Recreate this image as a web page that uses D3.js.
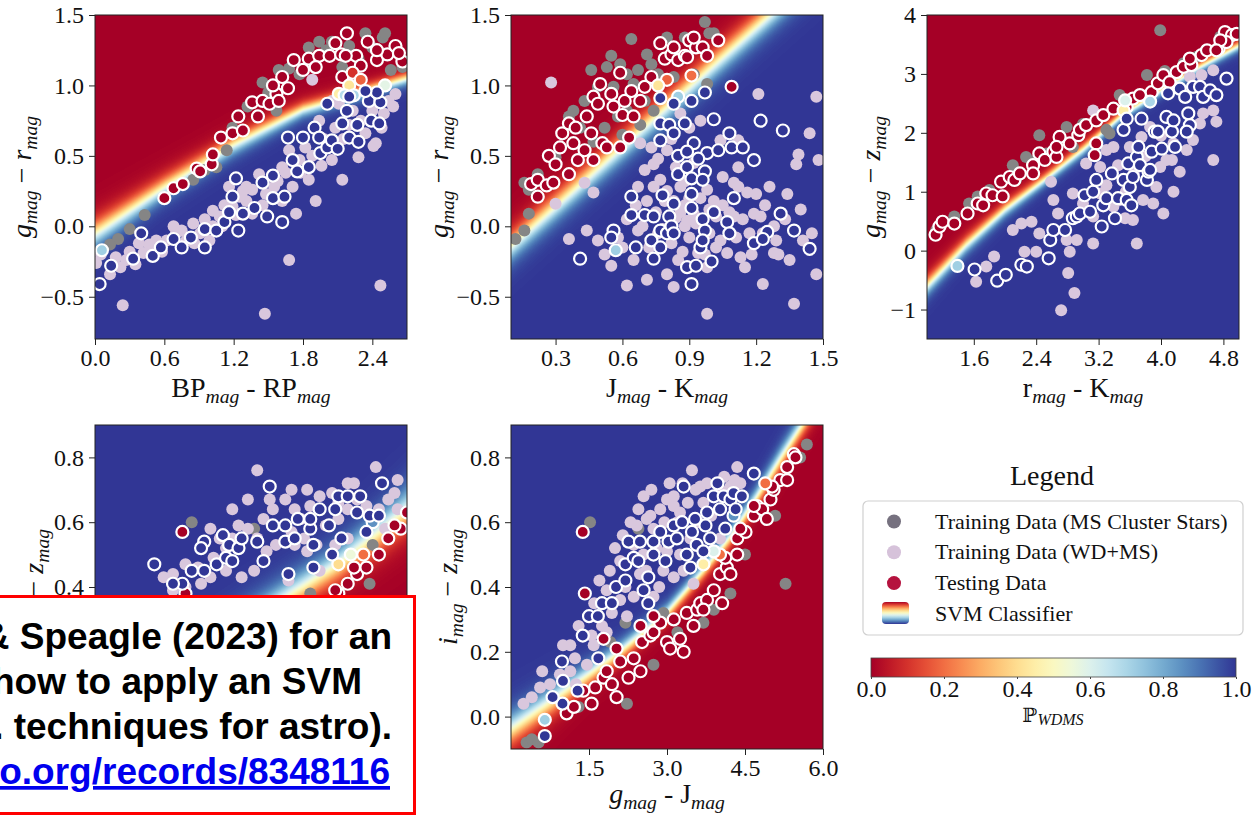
<!DOCTYPE html>
<html>
<head>
<meta charset="utf-8">
<script src="https://cdn.jsdelivr.net/npm/d3@7"></script>
<style>
body { margin: 0; background: #fff; }
svg { display: block; font-family: "Liberation Serif", "Times New Roman", serif; }
text { white-space: pre; }
</style>
</head>
<body>
<svg id="chart" width="1253" height="816"></svg>
<script>
// ---- panel 1 : g-r vs BP-RP ----
var p1XTicks = [0.0, 0.6, 1.2, 1.8, 2.4];
var p1YTicks = [-0.5, 0.0, 0.5, 1.0, 1.5];
var p1XLabel = [["BP",""],["mag","sub"],[" - ",""],["RP",""],["mag","sub"]];
var p1YLabel = [["g","it"],["mag","sub"],[" − ",""],["r","it"],["mag","sub"]];
// SVM decision edge: [x, y, softness in y units]
var p1Boundary = [[0,-0.05,0.055],[0.6,0.28,0.045],[1.2,0.58,0.04],[1.8,0.83,0.03],[2.7,1.05,0.025]];
var p1Gray = [[0.20,-0.09],[0.30,-0.02],[0.43,0.08],[0.13,-0.13],[1.05,0.42],[1.14,0.54],[1.32,0.85],[1.57,0.82],[1.45,1.02],[1.59,1.11],[1.68,1.12],[1.85,1.27],[1.94,1.31],[2.05,1.31],[2.34,1.37],[2.49,1.34],[2.51,1.37],[2.28,1.19],[2.56,1.11],[2.66,1.13],[1.77,1.08],[2.14,1.13],[2.40,1.27],[1.19,0.70],[0.85,0.33],[2.00,1.25],[2.20,1.28],[1.50,0.95],[0.95,0.40]];
var p1Lilac = [[0.24,-0.56],[1.47,-0.62],[1.68,-0.24],[2.47,-0.42],[2.14,0.33],[2.41,0.57],[1.88,1.04],[0.01,-0.26],[0.13,-0.34],[0.22,-0.29],[0.27,-0.24],[0.42,-0.19],[0.47,-0.13],[0.62,-0.10],[0.70,-0.05],[0.79,-0.10],[0.91,-0.05],[1.02,0.11],[1.08,0.07],[1.02,0.00],[1.19,0.14],[1.31,0.18],[1.36,0.26],[1.31,0.28],[1.42,0.37],[1.48,0.23],[1.62,0.18],[1.71,0.28],[1.74,0.09],[1.62,0.42],[1.77,0.47],[1.85,0.33],[1.91,0.18],[1.68,0.54],[1.82,0.56],[1.94,0.75],[2.05,0.47],[2.08,0.70],[2.11,0.87],[2.23,0.82],[2.34,0.66],[2.43,0.59],[2.54,0.89],[2.60,0.94],[2.05,0.89],[1.16,0.28],[1.25,0.21],[0.99,-0.10],[0.53,-0.10],[0.68,0.00],[1.36,0.09],[2.28,0.49],[0.35,-0.27],[0.58,-0.18],[0.86,-0.12],[1.12,0.15],[1.55,0.28],[1.96,0.43],[2.20,0.72],[2.50,0.80],
  [0.05,-0.20],[0.18,-0.22],[0.30,-0.18],[0.38,-0.12],[0.55,-0.16],[0.75,-0.03],[0.85,0.02],[0.95,0.05],[1.10,0.00],[1.22,0.08],[1.28,0.25],[1.45,0.15],[1.58,0.32],[1.65,0.38],[1.78,0.38],[1.88,0.50],[1.98,0.62],[2.15,0.62],[2.30,0.75],[2.40,0.82],[2.48,0.70],[2.58,0.85]];
// testing data: [x, y, P_WDMS]
var p1Test = [[0.60,0.20,0],[0.68,0.27,0],[0.76,0.30,0],[0.88,0.41,0],[1.01,0.44,0],[1.02,0.51,0],[1.09,0.63,0],[1.19,0.66,0],[1.24,0.78,0],[1.36,0.88,0],[1.41,0.78,0],[1.45,0.89,0],[1.51,0.87,0],[1.57,0.94,0],[1.54,1.00,0],[1.62,1.06,0],[1.67,0.98,0],[1.72,1.18,0],[1.80,1.11,0],[1.85,1.19,0],[1.94,1.21,0],[2.03,1.21,0],[2.08,1.30,0],[2.13,1.22,0],[2.18,1.37,0],[2.26,1.21,0],[2.30,1.14,0],[2.36,1.31,0],[2.44,1.18,0],[2.53,1.22,0],[2.60,1.28,0],[2.66,1.17,0],[2.17,1.21,0],[2.63,1.23,0],[2.14,1.06,0],[0.91,0.39,0],[1.28,0.68,0],[1.59,0.89,0],[2.44,1.25,0],[1.91,1.13,0],
  [2.23,1.09,0.1],[2.30,1.04,0.18],[2.20,1.00,0.42],[2.11,0.94,0.45],[2.16,0.93,0.68],[2.24,0.93,0.7],[2.51,1.00,0.58],[0.06,-0.17,0.72],
  [0.04,-0.41,1],[0.14,-0.28,1],[0.33,-0.23,1],[0.40,-0.05,1],[0.50,-0.21,1],[0.57,-0.15,1],[0.68,-0.09,1],[0.75,-0.15,1],[0.83,-0.08,1],[0.95,-0.15,1],[0.95,-0.02,1],[1.05,-0.03,1],[1.12,0.03,1],[1.16,0.10,1],[1.19,0.21,1],[1.24,-0.03,1],[1.28,0.09,1],[1.38,0.13,1],[1.22,0.34,1],[1.45,0.31,1],[1.54,0.36,1],[1.54,0.20,1],[1.64,0.21,1],[1.62,0.03,1],[1.49,0.07,1],[1.67,0.63,1],[1.75,0.39,1],[1.80,0.63,1],[1.85,0.42,1],[1.90,0.70,1],[1.95,0.52,1],[2.01,0.56,1],[2.05,0.61,1],[2.01,0.87,1],[2.10,0.55,1],[2.14,0.73,1],[2.20,0.63,1],[2.18,0.82,1],[2.27,0.72,1],[2.28,0.60,1],[2.37,0.89,1],[2.39,0.75,1],[2.46,0.73,1],[2.47,0.88,1],[2.44,0.95,1],[2.34,0.96,1],[2.20,0.92,1],[1.94,0.63,1],[1.71,0.47,1]];

// ---- panel 2 : g-r vs J-K ----
var p2XTicks = [0.3, 0.6, 0.9, 1.2, 1.5];
var p2YTicks = [-0.5, 0.0, 0.5, 1.0, 1.5];
var p2XLabel = [["J",""],["mag","sub"],[" - ",""],["K",""],["mag","sub"]];
var p2YLabel = [["g","it"],["mag","sub"],[" − ",""],["r","it"],["mag","sub"]];
var p2Boundary = [[0.1,-0.14,0.058],[1.26,1.5,0.058]];
var p2Gray = [[0.12,-0.09],[0.16,-0.03],[0.18,0.09],[0.16,0.31],[0.18,0.26],[0.22,0.37],[0.30,0.49],[0.36,0.78],[0.41,0.70],[0.43,0.89],[0.46,1.11],[0.49,0.99],[0.52,0.70],[0.55,1.21],[0.58,0.78],[0.59,1.15],[0.62,0.82],[0.64,1.33],[0.67,1.11],[0.70,0.89],[0.71,1.22],[0.73,1.15],[0.74,0.82],[0.76,1.08],[0.80,1.34],[0.83,1.06],[0.88,1.34],[0.92,1.08],[0.97,1.45],[0.98,1.01],[0.99,1.37],[1.01,1.37],[0.65,1.01],[0.56,0.99],[0.38,0.82],[0.53,1.13],[0.62,1.08],[0.47,0.60],[0.60,0.65],[0.68,0.72]];
var p2Lilac = [[0.28,1.02],[0.30,0.16],[0.36,-0.09],[0.44,-0.03],[0.47,0.24],[0.43,0.31],[0.49,-0.10],[0.55,-0.28],[0.58,-0.08],[0.62,-0.42],[0.65,-0.24],[0.68,0.59],[0.71,-0.38],[0.73,0.56],[0.74,0.44],[0.74,0.28],[0.71,0.18],[0.67,-0.03],[0.77,0.33],[0.79,0.18],[0.80,-0.34],[0.83,-0.43],[0.85,-0.24],[0.86,0.28],[0.88,0.00],[0.89,0.04],[0.92,0.09],[0.94,-0.19],[0.98,-0.29],[0.98,-0.62],[1.01,0.18],[1.02,0.07],[1.04,-0.10],[1.07,-0.19],[1.10,0.07],[1.10,0.31],[1.13,-0.22],[1.15,-0.29],[1.17,-0.05],[1.16,0.24],[1.20,0.23],[1.21,0.94],[1.22,0.07],[1.23,-0.05],[1.28,-0.19],[1.28,0.00],[1.29,-0.10],[1.34,0.23],[1.35,-0.24],[1.38,0.44],[1.37,-0.55],[1.41,-0.10],[1.44,0.66],[1.47,0.92],[1.48,0.47],[1.47,-0.34],[1.23,-0.41],[1.12,0.28],[1.26,0.28],[0.98,0.26],[0.83,0.18],[0.76,-0.05],[0.99,-0.05],[0.80,0.54],[0.95,0.75],[1.04,0.61],[1.12,0.61],[1.19,0.09],[1.12,0.42],[0.67,0.28],[1.39,0.51],[0.90,0.20],[1.05,0.35],[0.86,0.10],
  [0.62,0.05],[0.66,0.15],[0.69,0.00],[0.72,-0.15],[0.75,0.10],[0.78,-0.02],[0.80,0.25],[0.82,-0.12],[0.84,0.06],[0.87,-0.18],[0.88,0.15],[0.90,-0.08],[0.93,0.02],[0.95,0.20],[0.97,-0.20],[0.99,0.12],[1.02,-0.15],[1.05,0.15],[1.08,0.10],[1.11,-0.08],[1.14,0.05],[1.18,-0.20],[1.24,0.15],[1.30,-0.20],[1.33,0.05],[1.40,0.12],[1.45,-0.05],[0.60,-0.15],[0.52,-0.20],[0.70,0.40],[0.76,0.48],[0.84,0.42],[0.92,0.45],[0.88,0.32],[0.82,0.62],[0.90,0.70],[0.86,0.80]];
var p2Test = [[0.19,0.30,0],[0.22,0.33,0],[0.22,0.21,0],[0.26,0.29,0],[0.29,0.31,0],[0.27,0.50,0],[0.30,0.44,0],[0.32,0.56,0],[0.33,0.66,0],[0.36,0.37,0],[0.36,0.73,0],[0.39,0.70,0],[0.38,0.59,0],[0.40,0.47,0],[0.43,0.54,0],[0.44,0.78,0],[0.46,0.66,0],[0.47,0.47,0],[0.47,0.92,0],[0.49,0.87,0],[0.50,1.01,0],[0.51,0.59,0],[0.53,0.56,0],[0.55,0.94,0],[0.56,0.85,0],[0.59,1.09,0],[0.59,0.56,0],[0.60,0.79,0],[0.61,0.89,0],[0.63,0.63,0],[0.64,0.96,0],[0.65,0.78,0],[0.68,0.89,0],[0.70,0.99,0],[0.73,1.06,0],[0.77,1.30,0],[0.79,1.19,0],[0.82,1.22,0],[0.83,1.27,0],[0.85,1.18,0],[0.88,1.21,0],[0.90,1.32,0],[0.89,1.20,0],[0.93,1.27,0],[0.96,1.27,0],[0.98,1.21,0],[1.03,1.32,0],[1.09,0.99,0],[0.92,1.34,0],
  [0.80,1.04,0.18],[0.91,1.07,0.2],[0.76,1.00,0.42],[0.85,0.92,0.72],[0.57,-0.17,0.72],
  [0.77,0.91,1],[0.77,0.73,1],[0.81,0.72,1],[0.83,0.87,1],[0.91,0.89,1],[0.97,0.95,1],[0.77,0.61,1],[0.83,0.66,1],[0.88,0.73,1],[0.92,0.59,1],[0.98,0.52,1],[1.01,0.76,1],[0.85,0.50,1],[0.89,0.53,1],[0.94,0.48,1],[0.85,0.37,1],[0.89,0.42,1],[0.91,0.34,1],[0.97,0.39,1],[0.96,0.33,1],[1.03,0.54,1],[1.08,0.66,1],[1.09,0.56,1],[1.14,0.56,1],[1.19,0.47,1],[1.22,0.75,1],[1.32,0.68,1],[0.64,0.21,1],[0.64,0.08,1],[0.70,0.08,1],[0.74,0.07,1],[0.78,0.22,1],[0.81,0.07,1],[0.83,0.16,1],[0.91,0.23,1],[0.91,0.13,1],[0.96,0.05,1],[1.01,0.10,1],[1.10,0.20,1],[1.07,0.03,1],[1.08,-0.05,1],[1.19,-0.12,1],[1.25,-0.04,1],[1.23,-0.09,1],[1.31,0.09,1],[1.37,-0.03,1],[1.44,-0.16,1],[0.56,-0.03,1],[0.55,-0.08,1],[0.66,-0.15,1],[0.73,-0.10,1],[0.77,-0.03,1],[0.77,-0.15,1],[0.74,-0.23,1],[0.80,-0.05,1],[0.89,-0.29,1],[0.91,-0.41,1],[0.93,-0.28,1],[0.95,-0.15,1],[0.97,-0.03,1],[1.00,-0.25,1],[0.96,-0.10,1],[0.41,-0.23,1],[0.82,0.00,1],[0.83,-0.05,1]];

// ---- panel 3 : g-z vs r-K ----
var p3XTicks = [1.6, 2.4, 3.2, 4.0, 4.8];
var p3YTicks = [-1, 0, 1, 2, 3, 4];
var p3XLabel = [["r",""],["mag","sub"],[" - ",""],["K",""],["mag","sub"]];
var p3YLabel = [["g","it"],["mag","sub"],[" − ",""],["z","it"],["mag","sub"]];
var p3Boundary = [[1.0,-0.6,0.09],[1.5,0.1,0.08],[2.0,0.7,0.07],[2.5,1.2,0.06],[3.0,1.72,0.06],[3.5,2.3,0.05],[4.0,2.72,0.05],[4.5,3.12,0.05],[5.0,3.48,0.05]];
var p3Gray = [[3.99,3.74],[1.12,0.35],[1.35,0.58],[1.54,0.80],[1.80,1.03],[2.10,1.45],[2.27,1.59],[2.44,1.96],[2.79,2.10],[2.87,1.76],[3.30,2.05],[3.34,1.99],[3.47,2.64],[3.82,2.98],[4.29,3.18],[4.46,3.29],[4.76,3.63],[2.14,1.20],[2.53,1.65],[2.40,1.54],[1.65,0.92],[3.00,2.15],[4.05,3.05]];
var p3Lilac = [[1.63,-0.53],[1.76,-0.27],[1.86,-0.10],[2.10,0.35],[2.21,0.46],[2.34,0.49],[2.25,-0.02],[2.40,-0.02],[2.59,1.17],[2.72,-1.01],[2.81,-0.38],[2.89,-0.72],[2.83,-0.02],[2.92,0.18],[2.68,0.63],[2.79,0.18],[2.87,0.97],[3.13,0.12],[3.04,1.48],[3.13,2.38],[3.22,1.42],[3.30,1.71],[3.39,1.76],[3.47,0.86],[3.54,0.55],[3.60,1.76],[3.69,0.12],[3.77,0.86],[3.90,0.80],[3.99,1.42],[4.07,1.54],[4.14,1.54],[4.24,1.34],[4.41,1.88],[4.50,2.16],[4.54,2.33],[4.67,2.38],[4.71,2.19],[4.67,1.54],[4.67,3.06],[4.52,2.98],[4.37,2.95],[3.86,2.10],[3.75,1.93],[3.30,1.11],[3.22,0.97],[3.39,0.75],[3.64,0.52],[3.13,0.58],[3.00,0.80],[4.16,1.00],[4.03,0.63],[3.94,1.08],[4.16,1.82],[4.33,1.71],[2.62,0.86],[2.44,0.29],[3.45,1.45],[3.65,1.30],[3.55,1.00],[3.80,1.60],[4.00,1.95]];
var p3Test = [[1.11,0.27,0],[1.16,0.41,0],[1.20,0.49,0],[1.35,0.46,0],[1.52,0.63,0],[1.65,0.80,0],[1.72,0.77,0],[1.76,0.97,0],[1.84,0.94,0],[1.97,0.92,0],[1.95,1.17,0],[2.06,1.25,0],[2.12,1.20,0],[2.19,1.31,0],[2.36,1.45,0],[2.36,1.31,0],[2.44,1.65,0],[2.51,1.54,0],[2.62,1.68,0],[2.66,1.59,0],[2.70,1.93,0],[2.83,1.82,0],[2.94,1.96,0],[2.96,2.05,0],[3.04,2.13,0],[3.17,2.21,0],[3.17,1.82,0],[3.15,1.62,0],[3.26,2.30,0],[3.39,2.41,0],[3.56,2.44,0],[3.64,2.58,0],[3.73,2.64,0],[3.88,2.69,0],[3.96,2.84,0],[4.03,2.98,0],[4.20,3.03,0],[4.29,3.12,0],[4.39,3.15,0],[4.52,3.32,0],[4.59,3.40,0],[4.74,3.43,0],[4.82,3.71,0],[4.91,3.66,0],[4.84,3.54,0],[4.97,3.68,0],[4.76,3.57,0],[4.71,3.40,0],[4.37,3.26,0],[4.11,2.86,0],[2.66,1.76,0],
  [3.52,2.38,0.45],[3.86,2.53,0.7],[3.54,2.55,0.6],[1.39,-0.26,0.72],
  [1.61,-0.32,1],[1.90,-0.51,1],[2.01,-0.41,1],[2.21,-0.24,1],[2.28,-0.27,1],[2.56,-0.13,1],[2.58,0.18,1],[2.62,0.35,1],[2.77,0.35,1],[2.87,0.55,1],[2.92,0.58,1],[2.96,0.63,1],[3.02,0.94,1],[3.09,0.66,1],[3.13,1.00,1],[3.17,1.20,1],[3.24,0.41,1],[3.26,0.77,1],[3.30,0.89,1],[3.37,1.31,1],[3.41,0.55,1],[3.45,0.89,1],[3.52,1.20,1],[3.56,0.86,1],[3.58,1.48,1],[3.60,1.08,1],[3.62,0.77,1],[3.64,1.25,1],[3.69,1.59,1],[3.71,1.76,1],[3.73,1.45,1],[3.75,2.24,1],[3.82,1.20,1],[3.84,1.34,1],[3.86,1.37,1],[3.88,1.68,1],[3.92,2.02,1],[3.96,2.02,1],[4.01,1.73,1],[4.07,2.27,1],[4.09,2.67,1],[4.14,2.02,1],[4.16,2.21,1],[4.18,1.76,1],[4.24,2.75,1],[4.31,2.61,1],[4.35,2.33,1],[4.37,2.13,1],[4.41,2.78,1],[4.50,2.78,1],[4.54,2.61,1],[4.63,2.72,1],[4.71,2.64,1],[4.84,2.92,1],[4.33,2.02,1],[3.52,2.05,1],[3.56,2.24,1]];

// ---- panel 4 : i-z (lower left, mostly under the note) ----
var p4XTicks = [];
var p4YTicks = [0.4, 0.6, 0.8];
var p4XLabel = [];
var p4YLabel = [["i","it"],["mag","sub"],[" − ",""],["z","it"],["mag","sub"]];
var p4Boundary = [[0,0.0,0.03],[0.3,0.17,0.03],[0.6,0.36,0.03],[0.78,0.47,0.03],[0.9,0.56,0.033],[1.0,0.64,0.035]];
var p4Gray = [[0.31,0.60],[0.51,0.58],[0.88,0.41],[0.69,0.38],[0.89,0.53]];
var p4Lilac = [[0.22,0.43],[0.25,0.44],[0.29,0.47],[0.33,0.46],[0.38,0.49],[0.42,0.52],[0.44,0.64],[0.46,0.59],[0.49,0.58],[0.52,0.55],[0.54,0.61],[0.57,0.64],[0.61,0.67],[0.64,0.64],[0.66,0.61],[0.69,0.65],[0.72,0.68],[0.76,0.69],[0.78,0.66],[0.81,0.64],[0.84,0.67],[0.87,0.65],[0.91,0.64],[0.94,0.67],[0.96,0.69],[0.97,0.64],[0.83,0.72],[0.74,0.59],[0.71,0.53],[0.68,0.51],[0.64,0.53],[0.58,0.53],[0.55,0.51],[0.51,0.45],[0.47,0.43],[0.42,0.45],[0.37,0.43],[0.34,0.41],[0.29,0.40],[0.25,0.39],[0.63,0.57],[0.67,0.55],[0.77,0.53],[0.81,0.55],[0.93,0.58],[0.78,0.61],[0.44,0.55],[0.40,0.55],[0.49,0.67],[0.90,0.77],[0.52,0.76],[0.56,0.67],[0.63,0.70],[0.68,0.70],[0.81,0.72],[0.97,0.73],[0.37,0.58],[0.62,0.42],[0.72,0.45]];
var p4Test = [[0.28,0.57,0],[0.94,0.55,0],[0.91,0.50,0],[0.84,0.44,0],[0.83,0.46,0],[0.98,0.58,0],[1.0,0.63,0],[0.78,0.38,0],[0.81,0.41,0],[0.77,0.39,0],[0.87,0.46,0],[0.96,0.59,0],[0.29,0.38,0],
  [0.86,0.50,0.2],[0.78,0.47,0.4],[0.82,0.50,0.55],[0.89,0.60,0.85],
  [0.19,0.47,1],[0.28,0.41,1],[0.25,0.41,1],[0.31,0.45,1],[0.35,0.54,1],[0.35,0.45,1],[0.39,0.47,1],[0.41,0.56,1],[0.42,0.49,1],[0.43,0.53,1],[0.46,0.52,1],[0.47,0.55,1],[0.52,0.54,1],[0.54,0.48,1],[0.56,0.71,1],[0.57,0.59,1],[0.61,0.59,1],[0.61,0.54,1],[0.65,0.61,1],[0.69,0.58,1],[0.70,0.53,1],[0.70,0.46,1],[0.72,0.64,1],[0.75,0.59,1],[0.76,0.50,1],[0.78,0.68,1],[0.79,0.55,1],[0.81,0.68,1],[0.85,0.68,1],[0.84,0.63,1],[0.87,0.57,1],[0.88,0.62,1],[0.92,0.72,1],[0.91,0.62,1],[0.62,0.44,1],[0.69,0.61,1],[0.77,0.64,1],[0.64,0.55,1],[0.34,0.52,1],[0.44,0.48,1]];

// ---- panel 5 : i-z vs g-J ----
var p5XTicks = [1.5, 3.0, 4.5, 6.0];
var p5YTicks = [0.0, 0.2, 0.4, 0.6, 0.8];
var p5XLabel = [["g","it"],["mag","sub"],[" - ",""],["J",""],["mag","sub"]];
var p5YLabel = [["i","it"],["mag","sub"],[" − ",""],["z","it"],["mag","sub"]];
var p5Boundary = [[0,-0.04,0.028],[0.8,0.05,0.025],[1.5,0.13,0.02],[2.1,0.2,0.017],[3.0,0.32,0.015],[3.7,0.45,0.015],[4.2,0.55,0.016],[4.7,0.67,0.018],[5.2,0.8,0.02],[5.6,0.9,0.02],[6.0,1.0,0.02]];
var p5Gray = [[1.52,0.60],[2.45,0.58],[0.30,-0.08],[0.40,-0.07],[0.53,-0.08],[2.23,0.04],[2.20,0.29],[2.74,0.16],[5.28,0.41],[5.69,0.84],[5.08,0.62],[4.22,0.38],[3.90,0.33],[3.70,0.29],[1.91,0.23],[2.93,0.32],[5.56,0.80],[1.30,0.03],[3.20,0.26],[4.50,0.50]];
var p5Lilac = [[3.48,0.76],[0.24,0.04],[0.56,0.09],[0.75,0.10],[1.14,0.22],[1.23,0.18],[1.46,0.16],[1.59,0.22],[1.84,0.39],[1.94,0.32],[2.10,0.36],[2.23,0.31],[2.36,0.37],[2.48,0.44],[2.68,0.62],[2.74,0.58],[2.87,0.64],[3.00,0.67],[3.13,0.65],[3.25,0.63],[3.64,0.71],[3.77,0.72],[4.35,0.77],[4.02,0.70],[4.41,0.72],[2.93,0.45],[3.13,0.43],[3.32,0.45],[3.51,0.41],[4.02,0.55],[2.74,0.37],[2.36,0.53],[1.75,0.28],[1.14,0.14],[0.94,0.13],[2.10,0.48],[3.00,0.51],[3.13,0.68],[4.22,0.71],[2.42,0.59],[2.61,0.61],[1.84,0.26],[3.25,0.50],[2.55,0.50],[3.60,0.60],[1.60,0.35],
  [1.70,0.42],[1.90,0.45],[2.00,0.52],[2.15,0.56],[2.30,0.60],[2.45,0.64],[2.55,0.68],[2.70,0.70],[2.80,0.52],[2.95,0.60],[3.05,0.72],[3.20,0.60],[3.40,0.66],[3.55,0.70],[3.70,0.66],[3.85,0.62],[4.10,0.74],[4.30,0.73],[2.20,0.40],[2.60,0.45],[1.30,0.28],[1.00,0.22],[0.60,0.14],[0.40,0.06],[3.30,0.72],[2.85,0.40],[3.45,0.55],[1.55,0.25],[1.25,0.10]];
var p5Test = [[1.38,0.57,0],[1.42,0.38,0],[1.07,0.01,0],[1.21,0.03,0],[1.39,0.08,0],[1.55,0.04,0],[1.62,0.09,0],[1.78,0.24,0],[1.78,0.12,0],[1.84,0.14,0],[1.94,0.10,0],[2.03,0.06,0],[2.03,0.21,0],[2.10,0.17,0],[2.26,0.12,0],[2.36,0.18,0],[2.49,0.14,0],[2.52,0.23,0],[2.68,0.25,0],[2.74,0.26,0],[2.87,0.29,0],[3.00,0.23,0],[3.06,0.21,0],[3.13,0.30,0],[3.25,0.24,0],[3.32,0.20,0],[3.38,0.32,0],[3.51,0.28,0],[3.58,0.33,0],[3.64,0.35,0],[3.77,0.36,0],[3.90,0.39,0],[4.06,0.35,0],[4.02,0.44,0],[4.15,0.46,0],[4.22,0.44,0],[4.35,0.50,0],[4.35,0.55,0],[4.51,0.57,0],[4.67,0.62,0],[4.73,0.65,0],[4.83,0.64,0],[4.99,0.67,0],[5.05,0.70,0],[5.18,0.73,0],[5.31,0.77,0],[5.44,0.81,0],[5.47,0.80,0],[4.92,0.61,0],[4.41,0.58,0],[4.67,0.65,0],[3.70,0.33,0],[4.12,0.49,0],[5.02,0.71,0],[5.31,0.73,0],[2.74,0.31,0],[2.49,0.28,0],
  [0.65,-0.01,0.72],[4.02,0.50,0.2],[3.70,0.47,0.45],[4.28,0.62,0.85],[4.89,0.72,0.2],[3.90,0.51,0.6],
  [0.65,-0.06,1],[0.98,0.17,1],[1.00,0.11,1],[0.99,0.04,1],[0.80,0.06,1],[1.28,0.08,1],[1.38,0.25,1],[1.50,0.31,1],[1.67,0.31,1],[1.68,0.18,1],[1.75,0.35,1],[1.94,0.35,1],[2.02,0.40,1],[2.20,0.42,1],[2.20,0.47,1],[2.26,0.54,1],[2.36,0.49,1],[2.45,0.48,1],[2.48,0.54,1],[2.64,0.35,1],[2.64,0.43,1],[2.74,0.50,1],[2.74,0.54,1],[2.87,0.57,1],[2.97,0.48,1],[3.03,0.54,1],[3.13,0.59,1],[3.19,0.55,1],[3.29,0.60,1],[3.32,0.71,1],[3.38,0.50,1],[3.45,0.46,1],[3.48,0.57,1],[3.54,0.61,1],[3.57,0.53,1],[3.74,0.59,1],[3.77,0.63,1],[3.83,0.55,1],[3.90,0.68,1],[3.97,0.72,1],[4.02,0.64,1],[4.09,0.68,1],[4.12,0.58,1],[4.22,0.67,1],[4.28,0.69,1],[4.32,0.64,1],[4.44,0.68,1],[4.67,0.75,1],[3.70,0.51,1],[2.55,0.39,1]];

// ---- legend / colorbar / note ----
var legendTitle = "Legend";
var legendLabels = ["Training Data (MS Cluster Stars)", "Training Data (WD+MS)", "Testing Data", "SVM Classifier"];
var cbarTicks = [0.0, 0.2, 0.4, 0.6, 0.8, 1.0];
var noteLines = ["& Speagle (2023) for an", "how to apply an SVM", ". techniques for astro).", "o.org/records/8348116"];

var grayColor = "#858585", lilacColor = "#d9c7dd";

var panels = [
  {box:[95,15,407,339], xd:[0,2.7], yd:[-0.8,1.5], xt:p1XTicks, yt:p1YTicks, xf:".1f", yf:".1f", xl:p1XLabel, yl:p1YLabel, ylOff:64, xlOff:58, gray:p1Gray, lilac:p1Lilac, test:p1Test, edge:p1Boundary, redAbove:true},
  {box:[511,15,823,339], xd:[0.1,1.5], yd:[-0.8,1.5], xt:p2XTicks, yt:p2YTicks, xf:".1f", yf:".1f", xl:p2XLabel, yl:p2YLabel, ylOff:63, xlOff:58, gray:p2Gray, lilac:p2Lilac, test:p2Test, edge:p2Boundary, redAbove:true},
  {box:[927,15,1239,339], xd:[1.0,5.0], yd:[-1.5,4], xt:p3XTicks, yt:p3YTicks, xf:".1f", yf:"d", xl:p3XLabel, yl:p3YLabel, ylOff:47, xlOff:58, gray:p3Gray, lilac:p3Lilac, test:p3Test, edge:p3Boundary, redAbove:true},
  {box:[95,425,407,749], xd:[0,1], yd:[-0.1,0.9], xt:p4XTicks, yt:p4YTicks, xf:".1f", yf:".1f", xl:p4XLabel, yl:p4YLabel, ylOff:52, xlOff:54, gray:p4Gray, lilac:p4Lilac, test:p4Test, edge:p4Boundary, redAbove:false},
  {box:[511,425,823,749], xd:[0,6], yd:[-0.1,0.9], xt:p5XTicks, yt:p5YTicks, xf:".1f", yf:".1f", xl:p5XLabel, yl:p5YLabel, ylOff:54, xlOff:54, gray:p5Gray, lilac:p5Lilac, test:p5Test, edge:p5Boundary, redAbove:false}
];

var svg = d3.select("#chart");
var defs = svg.append("defs");
var cmap = d3.interpolateRdYlBu;
var lut = d3.range(256).map(function(i) { var c = d3.rgb(cmap(i / 255)); return [c.r, c.g, c.b]; });

// classifier probability image behind the points
function probField(p, xs, ys) {
  var x0 = p.box[0], y0 = p.box[1], w = p.box[2] - p.box[0], h = p.box[3] - p.box[1];
  var ex = p.edge.map(function(d) { return xs(d[0]); });
  var edgeY = d3.scaleLinear().domain(ex).range(p.edge.map(function(d) { return ys(d[1]); }));
  var edgeW = d3.scaleLinear().domain(ex).range(p.edge.map(function(d) { return Math.abs(ys(d[2]) - ys(0)); })).clamp(true);
  var cv = document.createElement("canvas");
  cv.width = w; cv.height = h;
  var ctx = cv.getContext("2d");
  var img = ctx.createImageData(w, h);
  for (var i = 0; i < w; i++) {
    var px = x0 + i + 0.5, by = edgeY(px), s = edgeW(px);
    for (var j = 0; j < h; j++) {
      var t = (y0 + j + 0.5 - by) / s;
      if (!p.redAbove) t = -t;
      var c = lut[Math.round(255 / (1 + Math.exp(-t)))];
      var k = (j * w + i) * 4;
      img.data[k] = c[0]; img.data[k+1] = c[1]; img.data[k+2] = c[2]; img.data[k+3] = 255;
    }
  }
  ctx.putImageData(img, 0, 0);
  return cv.toDataURL();
}

function addLabel(sel, segs, size) {
  var shift = 0;
  segs.forEach(function(s) {
    var sub = s[1] === "sub";
    var target = sub ? size * 0.22 : 0;
    sel.append("tspan").text(s[0])
      .attr("dy", target - shift)
      .style("font-size", (sub ? size * 0.7 : size) + "px")
      .style("font-style", (sub || s[1] === "it") ? "italic" : "normal");
    shift = target;
  });
}

panels.forEach(function(p, idx) {
  var xs = d3.scaleLinear().domain(p.xd).range([p.box[0], p.box[2]]);
  var ys = d3.scaleLinear().domain(p.yd).range([p.box[3], p.box[1]]);
  var g = svg.append("g").attr("class", "panel");
  var clipId = "clip" + idx;
  defs.append("clipPath").attr("id", clipId).append("rect")
    .attr("x", p.box[0]).attr("y", p.box[1])
    .attr("width", p.box[2] - p.box[0]).attr("height", p.box[3] - p.box[1]);

  g.append("image")
    .attr("x", p.box[0]).attr("y", p.box[1])
    .attr("width", p.box[2] - p.box[0]).attr("height", p.box[3] - p.box[1])
    .attr("preserveAspectRatio", "none")
    .attr("href", probField(p, xs, ys));

  var pts = g.append("g").attr("clip-path", "url(#" + clipId + ")");
  pts.selectAll(".gray").data(p.gray).enter().append("circle")
    .attr("class", "gray")
    .attr("cx", function(d) { return xs(d[0]); })
    .attr("cy", function(d) { return ys(d[1]); })
    .attr("r", 6).style("fill", grayColor);
  pts.selectAll(".lilac").data(p.lilac).enter().append("circle")
    .attr("class", "lilac")
    .attr("cx", function(d) { return xs(d[0]); })
    .attr("cy", function(d) { return ys(d[1]); })
    .attr("r", 6).style("fill", lilacColor);
  pts.selectAll(".test").data(p.test).enter().append("circle")
    .attr("class", "test")
    .attr("cx", function(d) { return xs(d[0]); })
    .attr("cy", function(d) { return ys(d[1]); })
    .attr("r", 6)
    .style("fill", function(d) { return cmap(d[2]); })
    .style("stroke", "#fff").style("stroke-width", 2.2);

  g.append("rect")
    .attr("x", p.box[0]).attr("y", p.box[1])
    .attr("width", p.box[2] - p.box[0]).attr("height", p.box[3] - p.box[1])
    .style("fill", "none").style("stroke", "#222").style("stroke-width", 1);

  var xAxis = d3.axisBottom(xs).tickValues(p.xt).tickFormat(d3.format(p.xf)).tickSize(6).tickPadding(4);
  var yAxis = d3.axisLeft(ys).tickValues(p.yt).tickFormat(d3.format(p.yf)).tickSize(6).tickPadding(5);
  if (p.xt.length) {
    g.append("g").attr("class", "x axis")
      .attr("transform", "translate(0," + p.box[3] + ")")
      .call(xAxis);
  }
  g.append("g").attr("class", "y axis")
    .attr("transform", "translate(" + p.box[0] + ",0)")
    .call(yAxis);
  g.selectAll(".axis .domain").remove();
  g.selectAll(".axis line").style("stroke", "#222");
  g.selectAll(".axis text").style("font-family", "Liberation Serif").style("font-size", "24px").style("fill", "#111");

  if (p.xl.length) {
    var xt = g.append("text")
      .attr("x", (p.box[0] + p.box[2]) / 2)
      .attr("y", p.box[3] + p.xlOff)
      .attr("text-anchor", "middle").style("fill", "#111");
    addLabel(xt, p.xl, 28);
  }
  var yt = g.append("text")
    .attr("transform", "translate(" + (p.box[0] - p.ylOff) + "," + ((p.box[1] + p.box[3]) / 2) + ") rotate(-90)")
    .attr("text-anchor", "middle").style("fill", "#111");
  addLabel(yt, p.yl, 28);
});

// ---- legend ----
var legend = svg.append("g").attr("class", "legend");
legend.append("text")
  .attr("x", 1052).attr("y", 485)
  .attr("text-anchor", "middle")
  .style("font-size", "28px").style("fill", "#111")
  .text(legendTitle);
legend.append("rect")
  .attr("x", 863).attr("y", 501).attr("width", 380).attr("height", 134)
  .attr("rx", 5)
  .style("fill", "#fff").style("stroke", "#d0d0d0").style("stroke-width", 1.2);

var svmGrad = defs.append("linearGradient").attr("id", "svmGrad")
  .attr("x1", 0).attr("y1", 0).attr("x2", 0).attr("y2", 1);
d3.range(0, 1.01, 0.1).forEach(function(t) {
  svmGrad.append("stop").attr("offset", t).attr("stop-color", cmap(t));
});

var markColors = ["#76717f", "#d6c2da", "#b5123e"];
var rows = legend.selectAll(".row").data(legendLabels).enter().append("g")
  .attr("class", "row")
  .attr("transform", function(d, i) { return "translate(0," + (521.5 + i * 30.8) + ")"; });
rows.each(function(d, i) {
  var r = d3.select(this);
  if (i < 3) {
    r.append("circle").attr("cx", 894).attr("cy", 0).attr("r", 7).style("fill", markColors[i]);
  } else {
    r.append("rect").attr("x", 882).attr("y", -12).attr("width", 27).attr("height", 22)
      .attr("rx", 4).style("fill", "url(#svmGrad)");
  }
});
rows.append("text")
  .attr("x", 935).attr("y", 7)
  .style("font-size", "22px").style("fill", "#111")
  .text(function(d) { return d; });

// ---- colorbar ----
var cbScale = d3.scaleLinear().domain([0, 1]).range([871, 1236]);
var cbGrad = defs.append("linearGradient").attr("id", "cbGrad")
  .attr("x1", 0).attr("y1", 0).attr("x2", 1).attr("y2", 0);
d3.range(0, 1.001, 0.05).forEach(function(t) {
  cbGrad.append("stop").attr("offset", t).attr("stop-color", cmap(t));
});
svg.append("rect")
  .attr("x", cbScale(0)).attr("y", 658)
  .attr("width", cbScale(1) - cbScale(0)).attr("height", 19)
  .style("fill", "url(#cbGrad)").style("stroke", "#444").style("stroke-width", 0.8);
var cbAxis = d3.axisBottom(cbScale).tickValues(cbarTicks).tickFormat(d3.format(".1f")).tickSize(2).tickPadding(1);
var cbG = svg.append("g").attr("class", "cbar axis")
  .attr("transform", "translate(0,677)")
  .call(cbAxis);
cbG.select(".domain").remove();
cbG.selectAll("line").style("stroke", "#444");
cbG.selectAll("text").style("font-family", "Liberation Serif").style("font-size", "24px").style("fill", "#111");
var cbLab = svg.append("text")
  .attr("x", 1053).attr("y", 722)
  .attr("text-anchor", "middle").style("fill", "#111");
cbLab.append("tspan").text("ℙ").style("font-size", "20px").style("font-family", "DejaVu Serif");
cbLab.append("tspan").text("WDMS").attr("dy", 3).style("font-size", "16px").style("font-style", "italic");

// ---- overlaid note box ----
var note = svg.append("g").attr("class", "note");
note.append("rect")
  .attr("x", -10).attr("y", 596.5).attr("width", 424.5).attr("height", 217)
  .style("fill", "#fff").style("stroke", "#ff0000").style("stroke-width", 3);
var noteRight = [392, 362, 392, 390];
note.selectAll(".line").data(noteLines).enter().append("text")
  .attr("class", "line")
  .attr("x", function(d, i) { return noteRight[i]; })
  .attr("y", function(d, i) { return 649 + i * 45; })
  .attr("text-anchor", "end")
  .style("font-family", "Liberation Sans, Arial, sans-serif")
  .style("font-weight", "bold").style("font-size", "37px")
  .style("fill", function(d, i) { return i === 3 ? "#0000ee" : "#000"; })
  .style("text-decoration", function(d, i) { return i === 3 ? "underline" : "none"; })
  .text(function(d) { return d; });
</script>
</body>
</html>
